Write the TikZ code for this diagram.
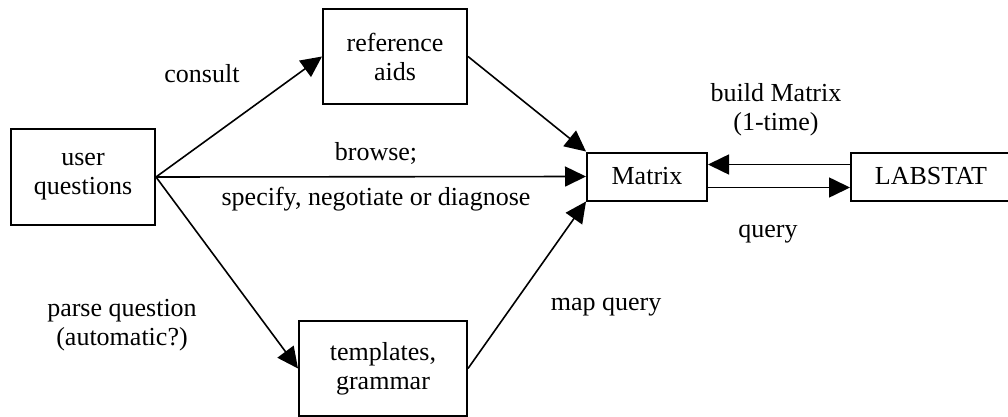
\documentclass[tikz,border=0pt]{standalone}
\usepackage{fontspec}
\setmainfont{Liberation Serif}
\usetikzlibrary{arrows.meta}
\begin{document}
\begin{tikzpicture}[x=1pt,y=-1pt,
  box/.style={draw,line width=2pt,inner sep=0pt,align=center,font=\fontsize{26}{29}\selectfont},
  conn/.style={line width=1.6pt,-{Triangle[length=21pt,width=20pt]}},
  lbl/.style={inner sep=0pt,align=center,anchor=base,font=\fontsize{26}{29}\selectfont}]
\clip (0,0) rectangle (1008,417);
\node[box,minimum width=144pt,minimum height=96pt] (user) at (83,177) {user\\questions};
\node[box,minimum width=144pt,minimum height=95pt] (ref) at (395,56.5) {reference\\aids};
\node[box,minimum width=168pt,minimum height=95pt] (templ) at (383,368.5) {templates,\\grammar};
\node[box,minimum width=120pt,minimum height=48pt] (mat) at (647,176.5) {Matrix};
\node[box,minimum width=160pt,minimum height=48pt] (lab) at (931,176.5) {LABSTAT};
\draw[conn] (user.east) -- (ref.west);
\draw[conn] (user.east) -- (mat.west);
\draw[conn] (user.east) -- (templ.west);
\draw[conn] (ref.east) -- (mat.north west);
\draw[conn] (templ.east) -- (mat.south west);
\draw[conn] ([yshift=12pt]lab.west) -- ([yshift=12pt]mat.east);
\draw[conn] ([yshift=-11pt]mat.east) -- ([yshift=-11pt]lab.west);
\node[lbl] (lconsult) at (202,83) {consult};
\node[lbl] (lbrowse) at (376,160) {browse;};
\node[lbl] (lspec) at (376,205) {specify, negotiate or diagnose};
\node[lbl] (lbuild) at (776,131) {build Matrix\\(1-time)};
\node[lbl] (lquery) at (768,237) {query};
\node[lbl] (lmap) at (606,310) {map query};
\node[lbl] (lparse) at (122,345) {parse question\\(automatic?)};
\end{tikzpicture}
\end{document}
